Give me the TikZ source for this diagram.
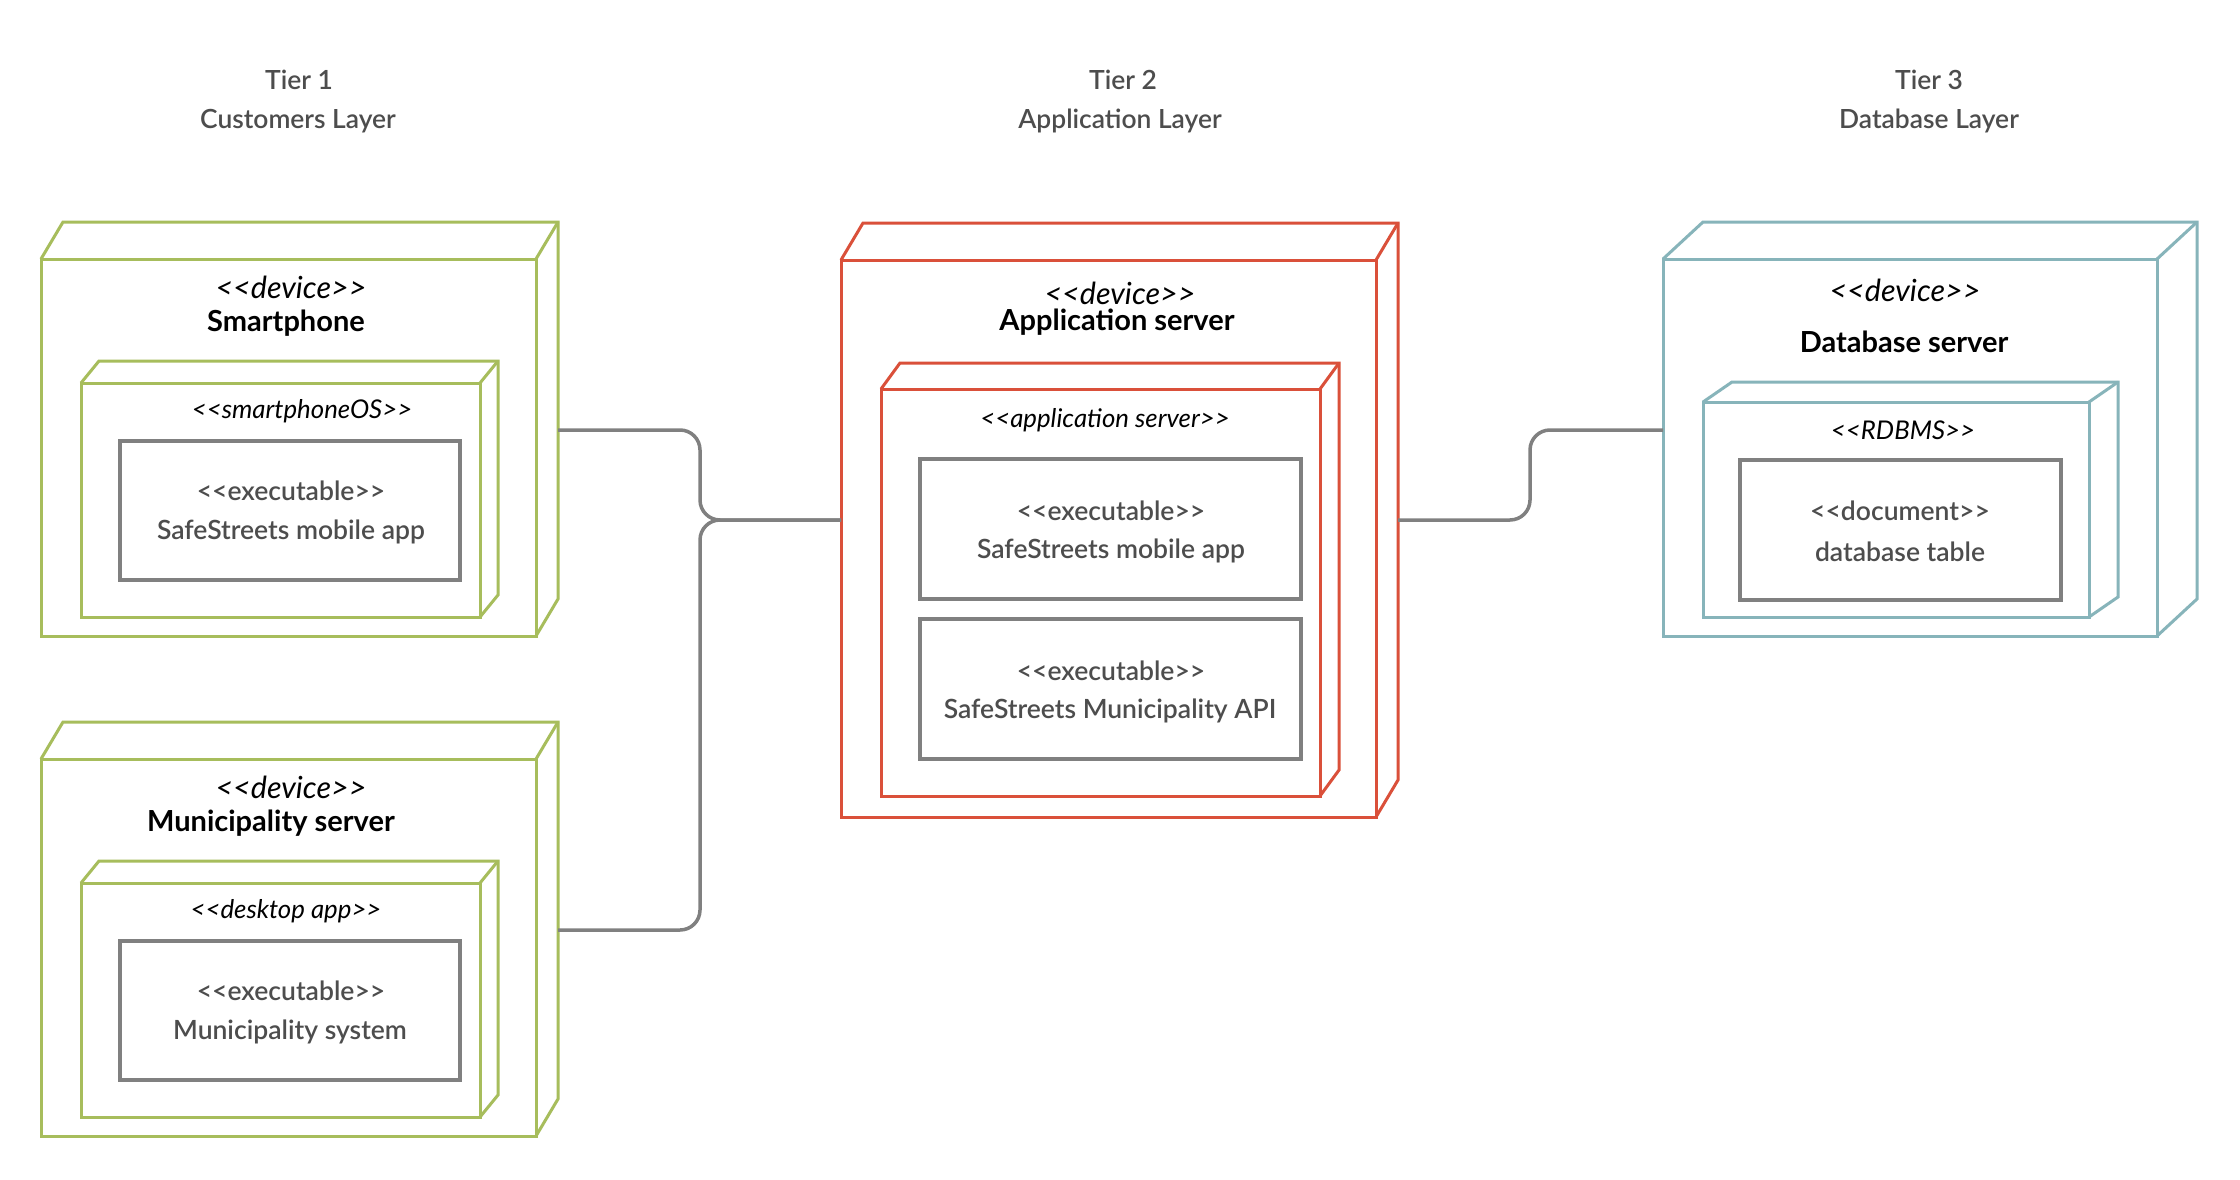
\documentclass[tikz,border=0pt]{standalone}
\usepackage{fontspec}
\setmainfont{Lato}
\IfFontExistsTF{Lato Semibold}{\newfontfamily\semib{Lato Semibold}}{\newfontfamily\semib{Lato}[FakeBold=1.2]}
\begin{document}
\definecolor{cgreen}{HTML}{A7BD5C}
\definecolor{cred}{HTML}{DA503A}
\definecolor{cteal}{HTML}{87B4BA}
\definecolor{cgray}{HTML}{808080}
\definecolor{ctext}{HTML}{4D4D4D}
\newcommand\sopen{<\kern0pt<}
\newcommand\sclose{>\kern0pt>}
\newcommand\cubebox[8]{%
  \node[#8, minimum width={(#4-#2)*1pt}, minimum height={(#5-#3)*1pt}] (#1) at ({(#2+#4)/2},{(#3+#5)/2}) {};
  \draw[#8] (#1.north west) -- ++(#6,-#7) -- ++({#4-#2},0) -- ([shift={(#6,-#7)}]#1.south east) -- (#1.south east);
  \draw[#8] (#1.north east) -- ++(#6,-#7);
}
\begin{tikzpicture}[x=1pt,y=-1pt,
  every node/.style={inner sep=0pt, outer sep=0pt},
  gbox/.style={draw=cgreen, line width=3pt},
  rbox/.style={draw=cred, line width=3pt},
  tbox/.style={draw=cteal, line width=3pt},
  exbox/.style={draw=cgray, line width=4pt, rectangle},
  conn/.style={draw=cgray, line width=3.5pt, rounded corners=20pt},
  header/.style={text=ctext, font=\semib\fontsize{26.4}{30}\selectfont},
  stereo/.style={text=black, font=\fontsize{30.5}{34}\selectfont\itshape},
  stereos/.style={text=black, font=\fontsize{25.8}{28}\selectfont\itshape},
  title/.style={text=black, font=\fontsize{29}{34}\selectfont\bfseries},
  extext/.style={text=ctext, font=\semib\fontsize{26.5}{30}\selectfont},
]
\useasboundingbox (0,0) rectangle (2240,1180);
\fill[white] (0,0) rectangle (2240,1180);

% headers
\node[header] (h1a) at (299,80) {Tier 1};
\node[header] (h1b) at (298,121) {Customers Layer};
\node[header] (h2a) at (1123,80) {Tier 2};
\node[header] (h2b) at (1120,121) {Application Layer};
\node[header] (h3a) at (1929,80) {Tier 3};
\node[header] (h3b) at (1929,121) {Database Layer};

% Smartphone
\cubebox{sp}{41}{259}{536}{636}{22}{37}{gbox}
\node[stereo] (spst) at (291,287) {\sopen device\sclose};
\node[title] (spt) at (286,323) {Smartphone};
\cubebox{spos}{81}{383}{480}{617}{18}{22}{gbox}
\node[stereos] (sposst) at (302,411) {\sopen smartphoneOS\sclose};
\node[exbox, minimum width=340pt, minimum height=139pt] (spex) at (290,510) {};
\node[extext] (spex1) at (291,491) {\sopen executable\sclose};
\node[extext] (spex2) at (291,532) {SafeStreets mobile app};

% Municipality server
\cubebox{ms}{41}{759}{536}{1136}{22}{37}{gbox}
\node[stereo] (msst) at (291,787) {\sopen device\sclose};
\node[title] (mst) at (271,823) {Municipality server};
\cubebox{msos}{81}{883}{480}{1117}{18}{22}{gbox}
\node[stereos] (msosst) at (286,911) {\sopen desktop app\sclose};
\node[exbox, minimum width=340pt, minimum height=139pt] (msex) at (290,1010) {};
\node[extext] (msex1) at (291,991) {\sopen executable\sclose};
\node[extext] (msex2) at (290,1032) {Municipality system};

% Application server
\cubebox{as}{841}{260}{1376}{817}{22}{37}{rbox}
\node[stereo] (asst) at (1120,293) {\sopen device\sclose};
\node[title] (ast) at (1117,322) {Application server};
\cubebox{asos}{881}{389}{1320}{796}{19}{26}{rbox}
\node[stereos] (asosst) at (1105,420) {\sopen application server\sclose};
\node[exbox, minimum width=381pt, minimum height=140pt] (asex1) at (1110,529) {};
\node[extext] (asex1a) at (1111,511) {\sopen executable\sclose};
\node[extext] (asex1b) at (1111,551) {SafeStreets mobile app};
\node[exbox, minimum width=381pt, minimum height=140pt] (asex2) at (1110,689) {};
\node[extext] (asex2a) at (1111,671) {\sopen executable\sclose};
\node[extext] (asex2b) at (1110,711) {SafeStreets Municipality API};

% Database server
\cubebox{db}{1663}{259}{2157}{636}{40}{37}{tbox}
\node[stereo] (dbst) at (1905,290) {\sopen device\sclose};
\node[title] (dbt) at (1904,342) {Database server};
\cubebox{dbos}{1703}{402}{2089}{617}{29}{20}{tbox}
\node[stereos] (dbosst) at (1903,430) {\sopen RDBMS\sclose};
\node[exbox, minimum width=321pt, minimum height=140pt] (dbex) at (1900,530) {};
\node[extext] (dbex1) at (1900,511) {\sopen document\sclose};
\node[extext] (dbex2) at (1900,552) {database table};

% connectors
\coordinate (spport) at (558,430);
\coordinate (msport) at (558,930);
\coordinate (asin) at (841,520);
\coordinate (asout) at (1398,520);
\coordinate (dbin) at (1663,430);
\coordinate (j1) at (700,520);
\coordinate (j2) at (1530,430);
\draw[conn] (spport) -- (spport -| j1) -- (j1) -- (asin);
\draw[conn] (msport) -- (msport -| j1) -- (j1) -- (asin);
\draw[conn] (asout) -- (asout -| j2) -- (j2) -- (dbin);
\end{tikzpicture}
\end{document}
